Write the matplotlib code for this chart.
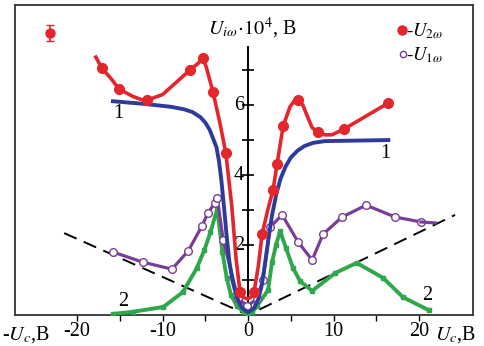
import matplotlib
matplotlib.use("Agg")
import matplotlib.pyplot as plt

plt.rcParams['font.family'] = ['Liberation Serif', 'DejaVu Serif']
plt.rcParams['mathtext.fontset'] = 'stix'

# ---- data ----
# U_2w (red, filled circles)
red_x = [-17.1, -15.1, -11.8, -6.8, -5.3, -4.1, -2.6, -0.94, 0.7, 1.64, 2.92, 3.39, 4.1, 5.85, 8.2, 11.2, 16.4]
red_y = [7.06, 6.46, 6.14, 7.0, 7.34, 6.37, 4.63, 0.66, 0.66, 2.31, 3.57, 4.31, 5.4, 6.14, 5.23, 5.31, 6.06]
red_line_x = [-17.8, -17.1, -16.0, -15.1, -13.5, -12.4, -11.8, -10.0, -6.8, -5.8, -5.3, -4.9, -4.1, -3.3, -2.6, -1.9, -1.4, -0.94, -0.5, -0.1, 0.3, 0.7, 1.2, 1.64, 2.3, 2.92, 3.39, 4.1, 4.9, 5.4, 5.85, 6.4, 6.9, 7.5, 8.2, 9.0, 9.8, 11.2, 16.4]
red_line_y = [7.37, 7.06, 6.75, 6.46, 6.25, 6.15, 6.14, 6.3, 7.0, 7.2, 7.34, 7.1, 6.37, 5.5, 4.63, 3.1, 1.6, 0.66, 0.5, 0.46, 0.5, 0.66, 1.4, 2.31, 3.0, 3.57, 4.31, 5.4, 5.95, 6.12, 6.14, 6.0, 5.7, 5.35, 5.23, 5.15, 5.15, 5.31, 6.06]

# curve 1 (blue)
blue_x = [-15.8, -12.0, -9.0, -7.5, -6.5, -5.6, -5.0, -4.5, -4.1, -3.7, -3.4, -3.1, -2.8, -2.5, -2.2, -1.8, -1.3, -0.7, 0.0, 0.7, 1.2, 1.6, 2.0, 2.4, 2.8, 3.3, 3.8, 4.4, 5.0, 5.8, 6.6, 7.6, 9.0, 16.4]
blue_y = [6.11, 6.03, 5.95, 5.88, 5.8, 5.66, 5.5, 5.3, 5.05, 4.8, 4.4, 3.8, 3.05, 2.25, 1.55, 0.95, 0.5, 0.2, 0.08, 0.2, 0.45, 0.85, 1.5, 2.2, 2.85, 3.45, 3.9, 4.25, 4.5, 4.7, 4.83, 4.92, 4.97, 5.0]

# U_1w (purple, open circles)
pur_x = [-15.8, -12.3, -8.9, -7.0, -5.4, -4.7, -3.9, -3.6, -2.9, -1.2, -0.1, 1.0, 1.75, 2.57, 3.98, 5.85, 7.49, 8.77, 11.0, 13.8, 17.2, 20.2]
pur_y = [1.8, 1.51, 1.31, 1.83, 2.54, 2.91, 3.2, 3.34, 2.14, 0.49, 0.26, 0.45, 1.0, 2.51, 2.86, 2.09, 1.57, 2.31, 2.8, 3.14, 2.8, 2.66]
pur_end_x = [20.2, 21.9]
pur_end_y = [2.66, 2.63]

# curve 2 (green, small squares)
grn_x = [-15.8, -13.5, -9.9, -7.6, -6.0, -5.1, -4.4, -3.6, -3.0, -2.5, -2.0, -1.3, -0.5, 0.0, 0.5, 1.05, 2.34, 2.8, 3.27, 3.74, 4.44, 5.26, 6.08, 7.49, 10.2, 12.7, 15.8, 18.1, 21.1]
grn_y = [0.03, 0.09, 0.23, 0.66, 1.34, 1.86, 2.37, 3.03, 1.8, 1.06, 0.57, 0.26, 0.08, 0.04, 0.08, 0.26, 0.71, 1.51, 2.0, 2.4, 1.91, 1.34, 0.97, 0.69, 1.2, 1.49, 1.06, 0.51, 0.14]

# dashed V line
dash_x = [-21.5, 0.0, 24.2]
dash_y = [2.34, 0.0, 2.86]

# error-bar sample point
err_x = [-23.2]
err_y = [8.06]
err_e = [0.23]

xticks = [-20, -15, -10, -5, 0, 5, 10, 15, 20]
xticklabels = ['-20', '', '-10', '', '0', '', '10', '', '20']
yticks = [1, 2, 3, 4, 5, 6, 7]
ylabels_at = [2, 4, 6]

RED = '#e3262b'
BLUE = '#2e3b9c'
PUR = '#7a3d96'
GRN = '#2fa84b'
FS = 14.5

fig = plt.figure(figsize=(4.85, 3.46), dpi=100)
ax = fig.add_axes([15 / 485, 31 / 346, 458 / 485, 310 / 346])
ax.set_xlim(-27.25, 26.3)
ax.set_ylim(0, 8.86)

for s in ax.spines.values():
    s.set_linewidth(1.3)
    s.set_color('#333333')

ax.set_xticks(xticks)
ax.set_xticklabels(xticklabels, fontsize=FS)
ax.tick_params(axis='x', direction='out', length=4, width=1, pad=1)
ax.set_yticks([])

# y axis at x=0
ax.plot([0, 0], [0, 7.66], color='black', lw=1.4, zorder=2)
ax.plot([0] * len(yticks), yticks, ls='none', marker='_', ms=8, mew=1.2, color='black', zorder=2)
for v in ylabels_at:
    ax.text(-0.5, v, str(v), ha='right', va='center', fontsize=FS)

# dashed line
ax.plot(dash_x, dash_y, color='black', lw=1.4, ls=(0, (7, 4)), zorder=3)

# green
ax.plot(grn_x, grn_y, color=GRN, lw=2.8, marker='s', ms=3.5, zorder=4)
# purple
ax.plot(pur_x, pur_y, color=PUR, lw=2.3, marker='o', ms=5.5, mfc='white', mec=PUR, mew=1.0, zorder=5)
ax.plot(pur_end_x, pur_end_y, color=PUR, lw=2.3, zorder=5)
# blue
ax.plot(blue_x, blue_y, color=BLUE, lw=2.8, zorder=6)
# red
ax.plot(red_line_x, red_line_y, color=RED, lw=2.6, zorder=7)
ax.plot(red_x, red_y, ls='none', marker='o', ms=7, color=RED, zorder=8)

# error bar sample
ax.errorbar(err_x, err_y, yerr=err_e, fmt='o', color=RED, ms=6.5, capsize=3, elinewidth=1.2, zorder=8)

# curve labels
ax.text(-15.2, 5.77, '1', fontsize=FS, ha='center', va='center')
ax.text(16.0, 4.63, '1', fontsize=FS, ha='center', va='center')
ax.text(-14.6, 0.38, '2', fontsize=FS, ha='center', va='center')
ax.text(20.9, 0.55, '2', fontsize=FS, ha='center', va='center')

# axis titles
ax.text(-4.7, 8.2, r'$U_{i\omega}\!\cdot\!10^4$, B', fontsize=FS, ha='left', va='center')
ax.text(-28.8, -0.55, r'-$U_c$,B', fontsize=FS, ha='left', va='center', clip_on=False)
ax.text(21.9, -0.55, r'$U_c$,B', fontsize=FS, ha='left', va='center', clip_on=False)

# legend
ax.plot([18.0], [8.14], ls='none', marker='o', ms=6.5, color=RED)
ax.text(18.5, 8.1, r'-$U_{2\omega}$', fontsize=13.5, ha='left', va='center')
ax.plot([18.1], [7.46], ls='none', marker='o', ms=4.5, mfc='white', mec=PUR, mew=1.0)
ax.text(18.5, 7.42, r'-$U_{1\omega}$', fontsize=13.5, ha='left', va='center')

fig.savefig('out.png', dpi=100)
